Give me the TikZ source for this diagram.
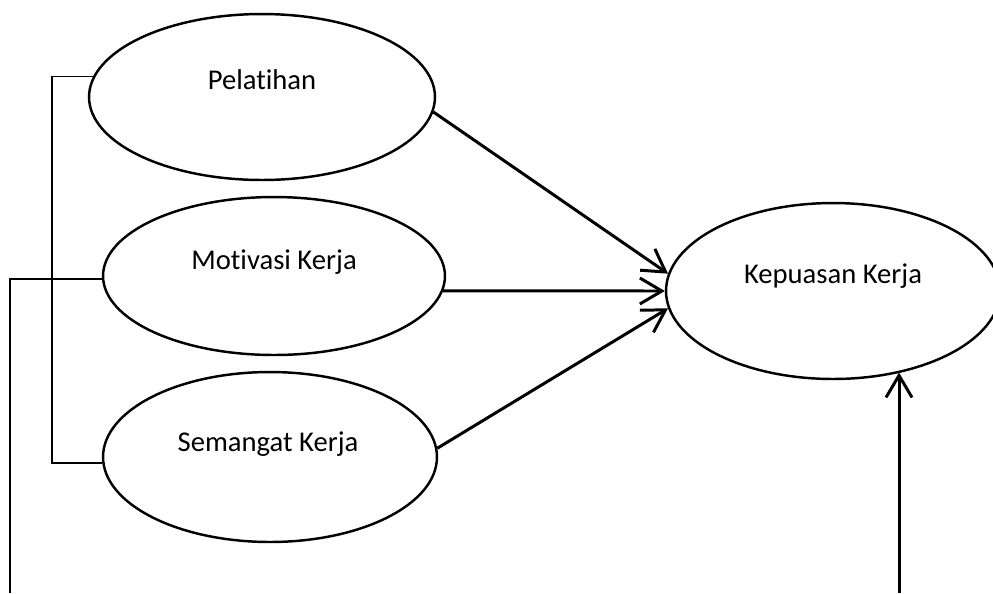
\documentclass[tikz,border=0pt]{standalone}
\usepackage{fontspec}
\setmainfont{Carlito}[Ligatures=NoCommon]
\usetikzlibrary{positioning, arrows.meta, shapes.geometric, calc}
\tikzset{var/.style={draw, ellipse, inner sep=0pt, line width=1.4pt},
txt/.style={font=\fontsize{16.3}{19}\selectfont, anchor=base},
flow/.style={-{Straight Barb[length=4.4mm, width=5.2mm]}, line width=1.7pt},
link/.style={line width=0.85pt}}

\begin{document}
\begin{tikzpicture}[x=0.02cm, y=-0.02cm]
  \useasboundingbox (0,0) rectangle (993,593);
  \node[var, minimum width=6.92cm, minimum height=3.32cm] (pel) at (262,97) {};
  \node[var, minimum width=6.84cm, minimum height=3.16cm] (mot) at (274,276) {};
  \node[var, minimum width=6.68cm, minimum height=3.40cm] (sem) at (270,457) {};
  \node[var, minimum width=6.68cm, minimum height=3.52cm] (kep) at (833,291) {};
  \node[txt] (pel_t) at ($(pel)+(0,-8)$) {Pelatihan};
  \node[txt] (mot_t) at ($(mot)+(0,-7)$) {Motivasi Kerja};
  \node[txt] (sem_t) at ($(sem)+(-2,-6)$) {Semangat Kerja};
  \node[txt] (kep_t) at ($(kep)+(0,-8)$) {Kepuasan Kerja};
  \coordinate (bx) at (52,0);
  \coordinate (lb) at (10,593);
  \coordinate (kb) at (899,593);
  \draw[flow] (pel.-5) -- (kep.174);
  \draw[flow] (mot.-5) -- (kep.west);
  \draw[flow] (sem.3) -- (kep.186);
  \draw[link] (pel.173) -- (pel.173 -| bx) |- (sem.182);
  \draw[link] (mot.181) -| (lb);
  \draw[flow] (kb) -- (kb |- kep.-50);
\end{tikzpicture}
\end{document}
